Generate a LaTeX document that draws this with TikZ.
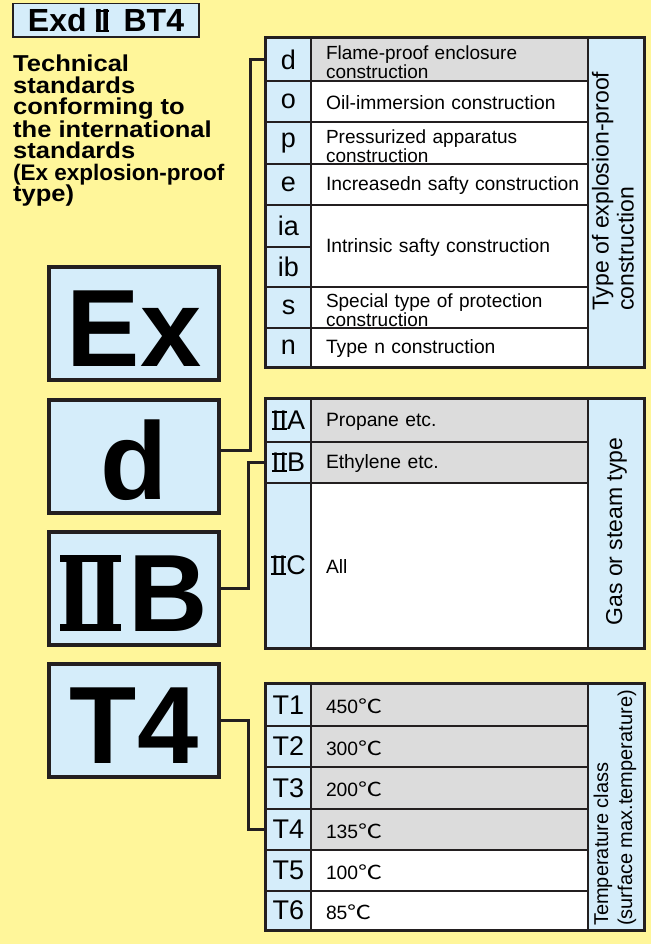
\documentclass[tikz,border=0pt]{standalone}
\usepackage{fontspec}
\setmainfont{Liberation Sans}
\newfontfamily\cjk{Noto Sans CJK JP}
\newfontfamily\widesans[FakeStretch=1.11]{Liberation Sans}
\definecolor{bgy}{HTML}{FFF69A}
\definecolor{lb}{HTML}{D5EDFA}
\definecolor{gr}{HTML}{DCDCDC}
\definecolor{ink}{HTML}{231F20}
% Roman numeral two: the letters I I joined by a bar above and below
\newcommand\mkII[3]{%
  \setbox0\hbox{\kern#1I\kern#2I\kern#1}%
  \rlap{\rule{\wd0}{#3}}\rlap{\rule[\dimexpr\ht0-#3\relax]{\wd0}{#3}}\box0}
\newcommand\tII{\mkII{0pt}{0pt}{0.07em}}
\newcommand\degC{\scalebox{1.25}[1]{\cjk ℃}}
% letter / side cells
\newcommand\boxcell[6]{%
  \pgfmathsetmacro\cw{#4-#2}\pgfmathsetmacro\ch{#5-#3}%
  \pgfmathsetmacro\cx{(#2+#4)/2}\pgfmathsetmacro\cy{(#3+#5)/2}%
  \node[lcell, minimum width=\cw pt, minimum height=\ch pt] (#1) at (\cx,\cy) {#6};}
% description cells (fill drawn as a node, text as a node of its own)
\newcommand\desccell[8]{%
  \pgfmathsetmacro\cw{#4-#2}\pgfmathsetmacro\ch{#5-#3}\pgfmathsetmacro\tw{#4-#2-30}%
  \pgfmathsetmacro\cx{(#2+#4)/2}\pgfmathsetmacro\cy{(#3+#5)/2}%
  \node[cellbg, fill=#6, minimum width=\cw pt, minimum height=\ch pt] (#1) at (\cx,\cy) {};
  \node[dtext, #7, text width=\tw pt] (#1-t) at (#1.center) {#8};}
\begin{document}
\begin{tikzpicture}[x=1pt,y=-1pt,
  bigbox/.style={draw=ink, line width=4pt, fill=lb, inner sep=0pt,
    minimum width=170pt, minimum height=113pt, text height=85pt, text depth=0pt,
    font=\fontsize{110}{110}\selectfont\bfseries},
  lcell/.style={draw=ink, line width=1.3pt, fill=lb, inner sep=0pt,
    font=\fontsize{27}{27}\selectfont},
  cellbg/.style={draw=ink, line width=1.3pt, inner sep=0pt},
  dtext/.style={inner xsep=15pt, inner ysep=0pt, align=left},
  done/.style={font=\fontsize{19.3}{19.3}\selectfont, yshift=-1.5pt},
  dtwo/.style={font=\fontsize{19}{16}\selectfont, yshift=-3pt},
  frame/.style={draw=ink, line width=3pt},
  conn/.style={draw=ink, line width=3pt},
  sidetext/.style={rotate=90, inner sep=0pt, align=left}]
\useasboundingbox (0,0) rectangle (651,944);
\fill[bgy] (0,0) rectangle (651,944);

% title
\node[draw=ink, line width=1.5pt, fill=lb, minimum width=186pt, minimum height=33.5pt, inner sep=0pt,
  font=\fontsize{32}{32}\selectfont\bfseries] (title) at (106,20.5)
  {Exd\kern9pt\mkII{-0.05em}{-0.05em}{0.07em}\kern15pt BT4};
\node[anchor=north west, inner sep=0pt, align=left,
  font=\fontsize{23}{21.5}\selectfont\bfseries\widesans] (intro) at (13,55)
  {Technical\\standards\\conforming to\\the international\\standards\\
   \normalfont\bfseries\fontsize{22.5}{21.5}\selectfont (Ex explosion-proof\\type)};

% big boxes
\node[bigbox] (bEx) at (134,323.5) {Ex};
\node[bigbox] (bd) at (134,456.5) {d};
\node[bigbox] (bII) at (134,588.5) {\mkII{0pt}{0pt}{0.065em}\kern0.07em B};
\node[bigbox] (bT) at (134,720.5) {T4};

% ---- top table
\boxcell{td}{266}{38}{311}{81}{d}
\boxcell{to}{266}{81}{311}{122}{o}
\boxcell{tp}{266}{122}{311}{164}{p}
\boxcell{te}{266}{164}{311}{205}{e}
\boxcell{tia}{266}{205}{311}{247}{ia}
\boxcell{tib}{266}{247}{311}{287}{ib}
\boxcell{ts}{266}{287}{311}{328}{s}
\boxcell{tn}{266}{328}{311}{367}{n}
\desccell{dd}{311}{38}{588}{81}{gr}{dtwo}{Flame-proof enclosure\\construction}
\desccell{do}{311}{81}{588}{122}{white}{done}{Oil-immersion construction}
\desccell{dp}{311}{122}{588}{164}{white}{dtwo}{Pressurized apparatus\\construction}
\desccell{de}{311}{164}{588}{205}{white}{done}{\mbox{Increasedn safty construction}}
\desccell{di}{311}{205}{588}{287}{white}{done}{Intrinsic safty construction}
\desccell{ds}{311}{287}{588}{328}{white}{dtwo}{Special type of protection\\construction}
\desccell{dn}{311}{328}{588}{367}{white}{done}{Type n construction}
\boxcell{rtop}{588}{38}{644}{367}{}
\node[sidetext, anchor=west, font=\fontsize{23}{25}\selectfont] (ltop) at (613,311)
  {Type of explosion-proof\\construction};
\draw[frame] (td.north west) rectangle (rtop.south east);

% ---- middle table
\boxcell{tIIA}{266}{399}{311}{442}{\tII A}
\boxcell{tIIB}{266}{442}{311}{483}{\tII B}
\boxcell{tIIC}{266}{483}{311}{648}{\tII C}
\desccell{dIIA}{311}{399}{588}{442}{gr}{done}{Propane etc.}
\desccell{dIIB}{311}{442}{588}{483}{gr}{done}{Ethylene etc.}
\desccell{dIIC}{311}{483}{588}{648}{white}{done}{All}
\boxcell{rmid}{588}{399}{644}{648}{}
\node[sidetext, anchor=base, font=\fontsize{23}{23}\selectfont] (lmid) at (622,531.5) {Gas or steam type};
\draw[frame] (tIIA.north west) rectangle (rmid.south east);

% ---- bottom table
\boxcell{tT1}{266}{684}{311}{726}{T1}
\boxcell{tT2}{266}{726}{311}{767}{T2}
\boxcell{tT3}{266}{767}{311}{809}{T3}
\boxcell{tT4}{266}{809}{311}{850}{T4}
\boxcell{tT5}{266}{850}{311}{891}{T5}
\boxcell{tT6}{266}{891}{311}{930}{T6}
\desccell{dT1}{311}{684}{588}{726}{gr}{done}{450\degC}
\desccell{dT2}{311}{726}{588}{767}{gr}{done}{300\degC}
\desccell{dT3}{311}{767}{588}{809}{gr}{done}{200\degC}
\desccell{dT4}{311}{809}{588}{850}{gr}{done}{135\degC}
\desccell{dT5}{311}{850}{588}{891}{white}{done}{100\degC}
\desccell{dT6}{311}{891}{588}{930}{white}{done}{85\degC}
\boxcell{rbot}{588}{684}{644}{930}{}
\node[sidetext, anchor=west, font=\fontsize{20}{24}\selectfont] (lbot) at (615,926)
  {Temperature class\\(surface max.temperature)};
\draw[frame] (tT1.north west) rectangle (rbot.south east);

% connectors
\draw[conn] ([yshift=6pt]bd.east) -- ++(29,0) |- (td.west);
\draw[conn] (bII.east) -- ++(27,0) |- (tIIB.west);
\draw[conn] (bT.east) -- ++(27,0) |- (tT4.west);
\end{tikzpicture}
\end{document}
